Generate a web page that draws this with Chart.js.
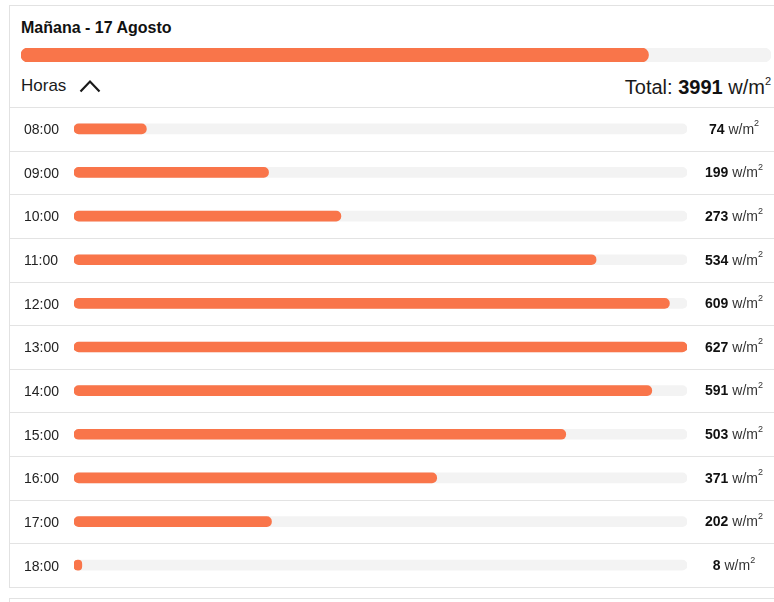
<!DOCTYPE html>
<html>
<head>
  <meta charset="UTF-8" />
  <title>Radiación solar - Mañana</title>
  <script src="https://cdn.jsdelivr.net/npm/chart.js"></script>
  <style>
    *{box-sizing:border-box}
    body{margin:0;background:#fff;font-family:Arial,'Liberation Sans',sans-serif;color:#1a1a1a;width:774px;height:602px;overflow:hidden;position:relative;}
    .card{position:absolute;left:9px;top:5px;width:800px;height:583px;border:1px solid #e2e2e2;background:#fff;}
    .card-next{position:absolute;left:9px;top:598px;width:800px;height:40px;border:1px solid #e2e2e2;}
    .title{position:absolute;left:21px;top:20px;font-size:16px;line-height:1;font-weight:700;color:#111;}
    .horas{position:absolute;left:21px;top:77px;font-size:17px;line-height:1;color:#1a1a1a;}
    .chevron{position:absolute;left:79px;top:79px;}
    .total{position:absolute;right:3px;top:77px;font-size:20px;line-height:1;color:#1a1a1a;white-space:nowrap;}
    .total b{font-weight:700;color:#111;}
    .total sup{font-size:11px;vertical-align:9px;line-height:0;}
    #topBar{position:absolute;left:21px;top:48px;}
    #hoursChart{position:absolute;left:10px;top:107px;}
  </style>
</head>
<body>
  <div class="card"></div>
  <div class="card-next"></div>
  <div class="title">Mañana - 17 Agosto</div>
  <canvas id="topBar" width="750" height="14"></canvas>
  <div class="horas">Horas</div>
  <svg class="chevron" width="22" height="14" viewBox="0 0 22 14">
    <polyline points="1.5,12.5 11,2.5 20.5,12.5" fill="none" stroke="#1a1a1a" stroke-width="2.2" />
  </svg>
  <div class="total">Total: <b id="totalValue"></b> w/m<sup>2</sup></div>
  <canvas id="hoursChart" width="764" height="481"></canvas>

  <script>
    // datos de radiación por hora (w/m2)
    const horas = ["08:00","09:00","10:00","11:00","12:00","13:00","14:00","15:00","16:00","17:00","18:00"];
    const radiacion = [74, 199, 273, 534, 609, 627, 591, 503, 371, 202, 8];
    // escala de la barra del total del día
    const escalaTotal = [4770];

    const NARANJA = "#f9754a";
    const FONDO = "#f3f3f3";
    const LINEA = "#e3e3e3";

    Chart.defaults.font.family = "Arial, 'Liberation Sans', sans-serif";

    const total = radiacion.reduce((a, b) => a + b, 0);
    document.getElementById("totalValue").innerText = total;
    const maxHora = Math.max(...radiacion);

    /* ---------- barra del total ---------- */
    new Chart(document.getElementById("topBar"), {
      type: "bar",
      data: {
        labels: ["total"],
        datasets: [
          { data: [total], backgroundColor: NARANJA, barThickness: 14, borderRadius: 7, borderSkipped: false, grouped: false },
          { data: escalaTotal, backgroundColor: FONDO, barThickness: 14, borderRadius: 7, borderSkipped: false, grouped: false }
        ]
      },
      options: {
        indexAxis: "y",
        responsive: false,
        animation: false,
        events: [],
        layout: { padding: 0 },
        plugins: { legend: { display: false }, tooltip: { enabled: false } },
        scales: {
          x: { display: false, min: 0, max: escalaTotal[0] },
          y: { display: false }
        }
      }
    });

    /* ---------- separadores de filas y etiquetas de valor ---------- */
    const filasPlugin = {
      id: "filas",
      beforeDraw(chart) {
        const ctx = chart.ctx;
        const y = chart.scales.y;
        const paso = y.getPixelForValue(1) - y.getPixelForValue(0);
        ctx.save();
        ctx.strokeStyle = LINEA;
        ctx.lineWidth = 1;
        for (let i = 0; i <= horas.length; i++) {
          const py = Math.round(y.getPixelForValue(0) - paso / 2 + i * paso) + 0.5;
          ctx.beginPath();
          ctx.moveTo(0, py);
          ctx.lineTo(chart.width, py);
          ctx.stroke();
        }
        ctx.restore();
      },
      afterDatasetsDraw(chart) {
        const ctx = chart.ctx;
        const yScale = chart.scales.y;
        const cx = 724;
        const fNum = "bold 14px Arial, 'Liberation Sans', sans-serif";
        const fUnit = "14px Arial, 'Liberation Sans', sans-serif";
        const fSup = "9px Arial, 'Liberation Sans', sans-serif";
        ctx.save();
        ctx.textBaseline = "middle";
        ctx.textAlign = "left";
        radiacion.forEach((v, i) => {
          const py = yScale.getPixelForValue(i) + 1;
          const num = String(v);
          ctx.font = fNum;
          const wNum = ctx.measureText(num).width;
          ctx.font = fUnit;
          const wUnit = ctx.measureText(" w/m").width;
          ctx.font = fSup;
          const wSup = ctx.measureText("2").width;
          let x = cx - (wNum + wUnit + wSup) / 2;
          ctx.fillStyle = "#111";
          ctx.font = fNum;
          ctx.fillText(num, x, py);
          x += wNum;
          ctx.fillStyle = "#333";
          ctx.font = fUnit;
          ctx.fillText(" w/m", x, py);
          x += wUnit;
          ctx.font = fSup;
          ctx.fillText("2", x, py - 6);
        });
        ctx.restore();
      }
    };

    /* ---------- barras por hora ---------- */
    new Chart(document.getElementById("hoursChart"), {
      type: "bar",
      data: {
        labels: horas,
        datasets: [
          { data: radiacion, backgroundColor: NARANJA, barThickness: 10, borderRadius: 5, borderSkipped: false, grouped: false },
          { data: horas.map(() => maxHora), backgroundColor: FONDO, barThickness: 10, borderRadius: 5, borderSkipped: false, grouped: false }
        ]
      },
      options: {
        indexAxis: "y",
        responsive: false,
        animation: false,
        events: [],
        layout: { padding: { left: 14, right: 87, top: 0, bottom: 1 } },
        plugins: { legend: { display: false }, tooltip: { enabled: false } },
        scales: {
          x: { display: false, min: 0, max: maxHora },
          y: {
            grid: { display: false },
            border: { display: false },
            afterFit: (scale) => {
              scale.width = 50;
              scale.paddingTop = 0;
              scale.paddingBottom = 0;
            },
            ticks: {
              crossAlign: "far",
              padding: 0,
              labelOffset: 1.5,
              color: "#222",
              font: { size: 14 }
            }
          }
        }
      },
      plugins: [filasPlugin]
    });
  </script>
</body>
</html>
